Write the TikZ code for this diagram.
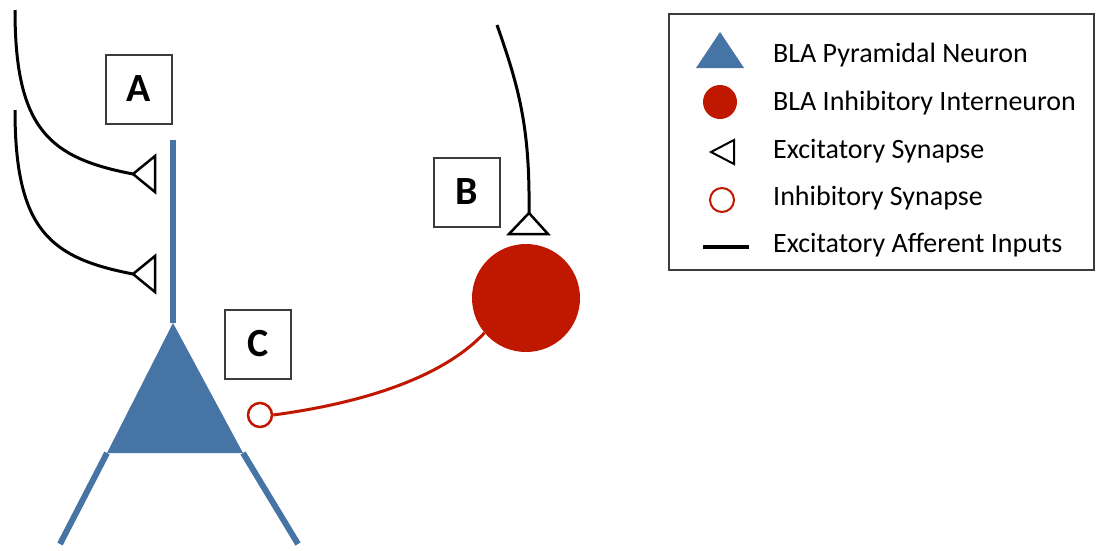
\documentclass[tikz,border=0pt]{standalone}
\usepackage{fontspec}
\setmainfont{Carlito}
\definecolor{pyrblue}{RGB}{70,116,164}
\definecolor{inred}{RGB}{192,24,0}
\definecolor{boxgray}{RGB}{60,60,60}
\tikzset{
  afferent/.style={line width=3pt, black},
  exsyn/.style={line width=2.5pt, black, fill=white, line join=miter},
  dendrite/.style={line width=6pt, pyrblue},
  labelbox/.style={draw=boxgray, line width=2pt, fill=white, minimum width=66pt, minimum height=69pt, inner sep=0pt, font=\fontsize{40}{44}\selectfont\bfseries},
  inhsyn/.style={circle, draw=inred, line width=2.5pt, fill=white, minimum size=24pt, inner sep=0pt},
  interneuron/.style={circle, fill=inred, minimum size=108pt, inner sep=0pt},
  inhline/.style={line width=3pt, inred},
  legtext/.style={anchor=west, font=\fontsize{28}{32}\selectfont, inner sep=0pt},
}
\begin{document}
\begin{tikzpicture}[x=1pt, y=-1pt]
\useasboundingbox (0,0) rectangle (1096,550);
% pyramidal neuron
\coordinate (apex) at (173,323);
\coordinate (bl) at (107,453);
\coordinate (br) at (243,453);
\coordinate (dtop) at (173,140);
\coordinate (legl) at (60,544);
\coordinate (legr) at (298,544);
\draw[dendrite] (dtop) -- (apex);
\draw[dendrite] (bl) -- (legl);
\draw[dendrite] (br) -- (legr);
\fill[pyrblue] (apex) -- (bl) -- (br) -- cycle;
% afferents with excitatory synapses onto dendrite
\coordinate (s1) at (133,174);
\coordinate (s2) at (133,274);
\coordinate (in1) at (15,10);
\coordinate (in2) at (15,110);
\draw[afferent] (in1) .. controls (15,130) and (50,158) .. (s1);
\draw[afferent] (in2) .. controls (15,230) and (50,258) .. (s2);
\draw[exsyn] (s1) -- ++(22,-18) -- ++(0,36) -- cycle;
\draw[exsyn] (s2) -- ++(22,-18) -- ++(0,36) -- cycle;
% interneuron
\node[interneuron] (inter) at (526,298) {};
\coordinate (in3) at (497,25);
\coordinate (s3) at (529,213);
\draw[afferent] (in3) .. controls (520,90) and (530,130) .. (s3);
\draw[exsyn] (s3) -- ++(-20,21) -- ++(39,0) -- cycle;
% inhibitory synapse
\node[inhsyn] (syn) at (260,415) {};
\draw[inhline] (syn.east) .. controls (370,402) and (445,375) .. (inter.220);
% label boxes
\node[labelbox] (A) at (139,89) {A};
\node[labelbox] (B) at (467,192) {B};
\node[labelbox] (C) at (258,344) {C};
% legend
\node[draw=boxgray, line width=2pt, minimum width=425pt, minimum height=256pt, inner sep=0pt] (legend) at (881.5,142) {};
\fill[pyrblue] (720,32) -- (696,68) -- (744,68) -- cycle;
\node[circle, fill=inred, minimum size=34pt, inner sep=0pt] (legc) at (720,102) {};
\draw[line width=2pt, black, line join=miter] (711,152) -- (734,140) -- (734,164) -- cycle;
\node[circle, draw=inred, line width=2pt, minimum size=24pt, inner sep=0pt] (legi) at (722,200) {};
\draw[line width=3.5pt] (703,247) -- (749,247);
\node[legtext] (t1) at (773,55) {BLA Pyramidal Neuron};
\node[legtext] (t2) at (773,103) {BLA Inhibitory Interneuron};
\node[legtext] (t3) at (773,151) {Excitatory Synapse};
\node[legtext] (t4) at (773,198) {Inhibitory Synapse};
\node[legtext] (t5) at (773,245) {Excitatory Afferent Inputs};
\end{tikzpicture}
\end{document}
